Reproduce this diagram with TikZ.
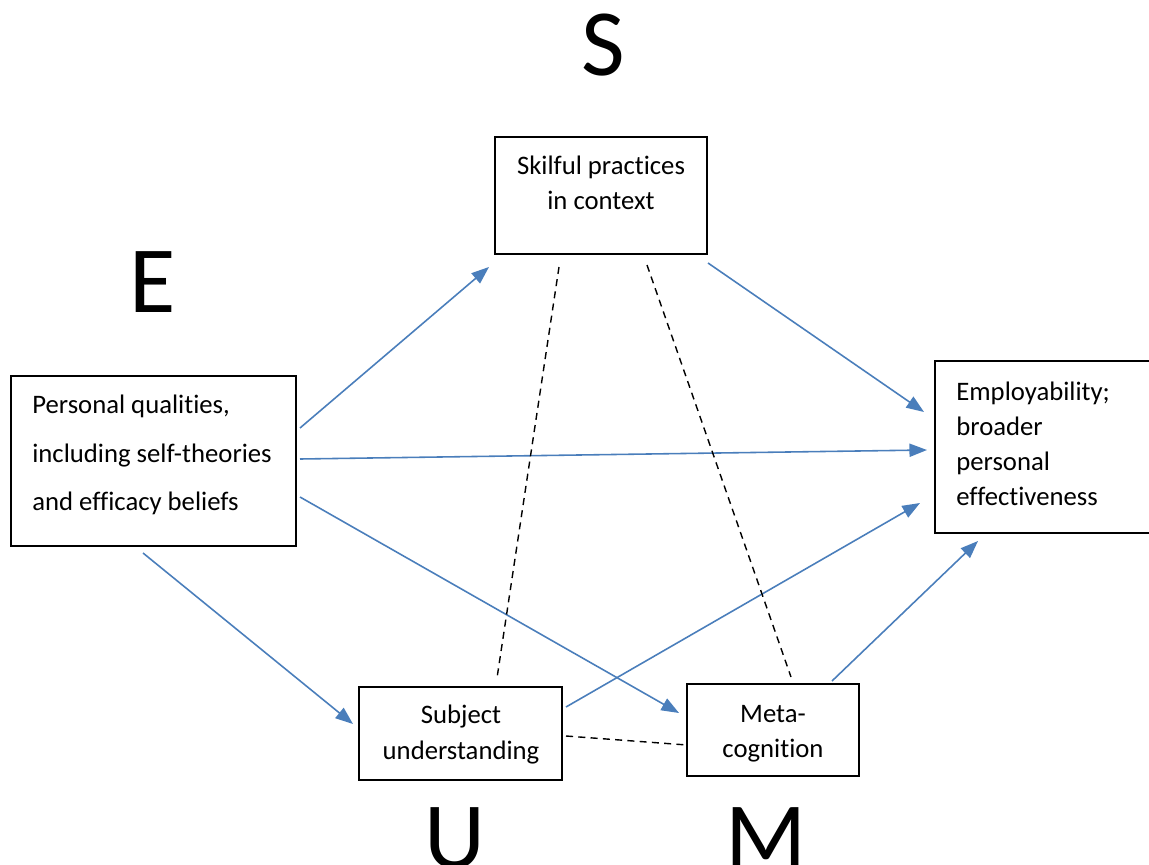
\documentclass[tikz,border=0pt]{standalone}
\usepackage{fontspec}
\setmainfont[Ligatures=NoCommon]{Carlito}
\usetikzlibrary{arrows.meta}
\definecolor{arrowblue}{HTML}{4A7EBB}
\begin{document}
\begin{tikzpicture}[x=0.02cm,y=-0.02cm,
  box/.style={draw=black,line width=0.8pt,rectangle,inner sep=0pt},
  label/.style={inner sep=0pt,font=\fontsize{15.2}{20}\selectfont},
  bigletter/.style={inner sep=0pt,font=\fontsize{54}{60}\selectfont},
  link/.style={draw=arrowblue,line width=0.9pt,-{Triangle[length=10pt,width=7.5pt]}},
  assoc/.style={draw=black,line width=0.8pt,dash pattern=on 4pt off 3pt}]
\useasboundingbox (0,0) rectangle (1149,865);

% boxes
\node[box,minimum width=4.24cm,minimum height=2.34cm] (skill) at (601,195.5) {};
\node[box,minimum width=5.7cm,minimum height=3.4cm] (pers) at (153.5,461) {};
\node[box,minimum width=4.48cm,minimum height=3.44cm] (emp) at (1047,447) {};
\node[box,minimum width=4.06cm,minimum height=1.86cm] (subj) at (460.5,733.5) {};
\node[box,minimum width=3.44cm,minimum height=1.84cm] (meta) at (773,730) {};

% box texts
\node[label,align=center] (skilltext) at (601,183) {Skilful practices\\in context};
\node[label,align=left,anchor=west,font=\fontsize{15.2}{27.6}\selectfont] (perstext) at (32,455) {Personal qualities,\\including self-theories\\and efficacy beliefs};
\node[label,align=left,anchor=west] (emptext) at (956,444) {Employability;\\broader\\personal\\effectiveness};
\node[label,align=center] (subjtext) at (461,734.5) {Subject\\understanding};
\node[label,align=center] (metatext) at (773,733.5) {Meta-\\cognition};

% corner letters
\node[bigletter] (S) at (603,45) {S};
\node[bigletter] (E) at (153,282) {E};
\node[bigletter] (U) at (455,838) {U};
\node[bigletter] (M) at (766,838) {M};

% connector end points
\coordinate (p1) at (300,428);  \coordinate (s1) at (489,267);
\coordinate (p2) at (300,459);  \coordinate (e2) at (927,450);
\coordinate (p3) at (300,497);  \coordinate (m3) at (679,713);
\coordinate (p4) at (143,553);  \coordinate (u4) at (353,724);
\coordinate (s5) at (708,263);  \coordinate (e5) at (924,412);
\coordinate (u6) at (566,707);  \coordinate (e6) at (920,503);
\coordinate (m7) at (832,681);  \coordinate (e7) at (978,541);
\coordinate (s8) at (559,267);  \coordinate (u8) at (497,678);
\coordinate (s9) at (647,265);  \coordinate (m9) at (791,677);
\coordinate (u10) at (566,736); \coordinate (m10) at (687,745);

% influences
\draw[link] (p1) -- (s1);
\draw[link] (p2) -- (e2);
\draw[link] (p3) -- (m3);
\draw[link] (p4) -- (u4);
\draw[link] (s5) -- (e5);
\draw[link] (u6) -- (e6);
\draw[link] (m7) -- (e7);

% associations
\draw[assoc] (s8) -- (u8);
\draw[assoc] (s9) -- (m9);
\draw[assoc] (u10) -- (m10);
\end{tikzpicture}
\end{document}
